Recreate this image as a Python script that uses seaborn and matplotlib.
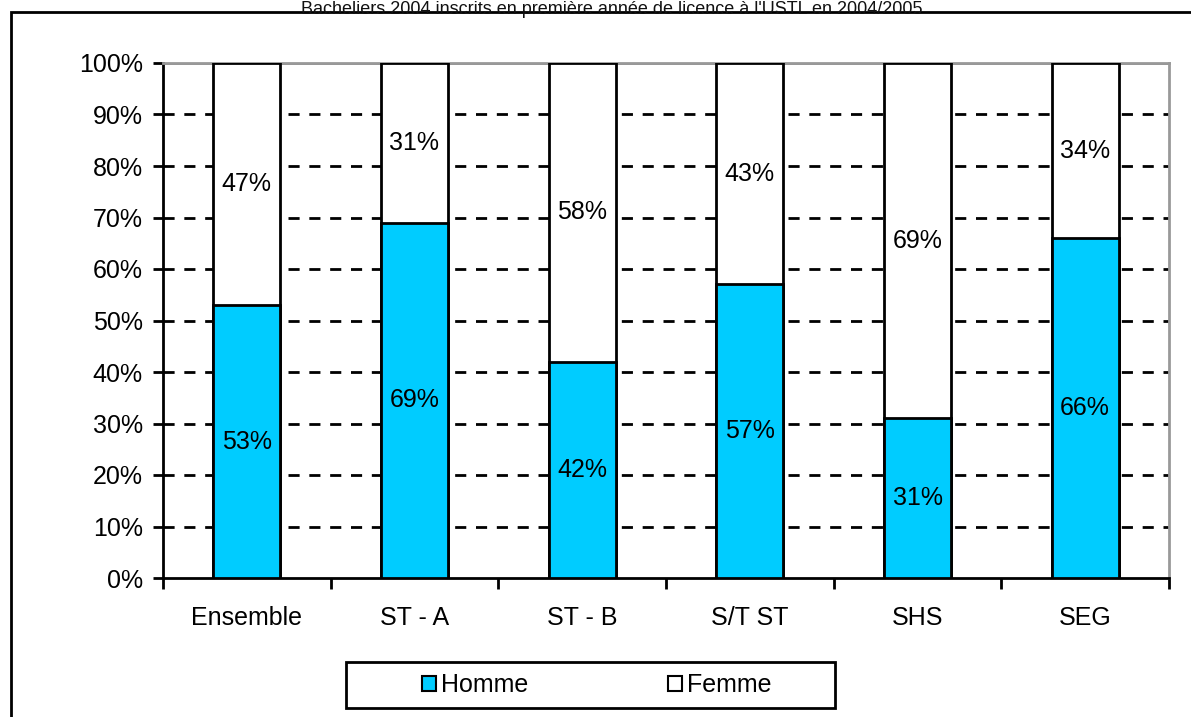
import matplotlib
matplotlib.use("Agg")
import matplotlib.pyplot as plt
import seaborn as sns
import numpy as np
import pandas as pd
from matplotlib.patches import Rectangle, Patch
from matplotlib.ticker import FixedLocator

categories = ["Ensemble", "ST - A", "ST - B", "S/T ST", "SHS", "SEG"]
homme = [53, 69, 42, 57, 31, 66]
femme = [47, 31, 58, 43, 69, 34]
yticks = [0, 10, 20, 30, 40, 50, 60, 70, 80, 90, 100]
title = "Bacheliers 2004 inscrits en première année de licence à l'USTL en 2004/2005"

sns.set_theme(style="white")
plt.rcParams["font.family"] = ["Liberation Sans", "DejaVu Sans"]
plt.rcParams["text.color"] = "black"
plt.rcParams["xtick.color"] = "black"
plt.rcParams["ytick.color"] = "black"

FS = 18
W, H = 1191, 717
fig = plt.figure(figsize=(W / 100, H / 100), dpi=100)
ax = fig.add_axes([163 / W, 1 - 578 / H, (1169 - 163) / W, (578 - 63) / H])

df = pd.DataFrame({"cat": categories, "homme": homme, "femme": femme})
df["total"] = df["homme"] + df["femme"]

sns.barplot(data=df, x="cat", y="total", color="white", edgecolor="black",
            linewidth=2, width=0.4, saturation=1, ax=ax, zorder=3)
sns.barplot(data=df, x="cat", y="homme", color="#00CCFF", edgecolor="black",
            linewidth=2, width=0.4, saturation=1, ax=ax, zorder=4)

ax.set_xlim(-0.5, len(categories) - 0.5)
ax.set_ylim(0, 100)
ax.set_xlabel("")
ax.set_ylabel("")
ax.set_yticks(yticks)
ax.set_yticklabels([f"{v}%" for v in yticks], fontsize=FS, color="black")
ax.tick_params(axis="y", direction="out", length=7, width=2, color="black",
               left=True, pad=7.5)
ax.tick_params(axis="x", which="major", length=0, labelsize=FS, pad=20,
               labelcolor="black")
ax.xaxis.set_minor_locator(FixedLocator(np.arange(-0.5, len(categories), 1.0)))
ax.tick_params(axis="x", which="minor", direction="out", length=8, width=2,
               color="black", bottom=True)

for v in yticks[1:-1]:
    ax.axhline(v, color="black", linestyle=(0, (4, 3.5)), linewidth=2, zorder=1)
ax.axhline(100, color="#808080", linewidth=2, zorder=1)

for s in ["left", "bottom"]:
    ax.spines[s].set_color("black")
    ax.spines[s].set_linewidth(2)
for s in ["top", "right"]:
    ax.spines[s].set_color("#999999")
    ax.spines[s].set_linewidth(2)

for i, (h, f) in enumerate(zip(homme, femme)):
    ax.text(i, h / 2, f"{h}%", ha="center", va="center", fontsize=FS,
            color="black", zorder=5)
    ax.text(i, h + f / 2, f"{f}%", ha="center", va="center", fontsize=FS,
            color="black", zorder=5)

# outer frame
fig.patches.append(Rectangle((11 / W, -0.2), 1.2, 1 - 12 / H + 0.2,
                             transform=fig.transFigure, fill=False,
                             edgecolor="black", linewidth=2, zorder=0))

# title
fig.text(612 / W, 1 - 0.5 / H, title, ha="center", va="top", fontsize=13,
         color="#111111")

# legend box
fig.patches.append(Rectangle((346 / W, 1 - 708 / H), (835 - 346) / W, (708 - 662) / H,
                             transform=fig.transFigure, facecolor="white",
                             edgecolor="black", linewidth=2, zorder=1))
handles = [Patch(facecolor="#00CCFF", edgecolor="black", linewidth=1.5),
           Patch(facecolor="white", edgecolor="black", linewidth=1.5)]
leg = fig.legend(handles, ["Homme", "Femme"], loc="center",
                 bbox_to_anchor=(597 / W, 1 - 685 / H), ncol=2, frameon=False,
                 fontsize=FS, handlelength=0.55, handleheight=0.55,
                 handletextpad=0.2, columnspacing=5.6)
leg.set_zorder(20)

fig.savefig("out.png", dpi=100)
